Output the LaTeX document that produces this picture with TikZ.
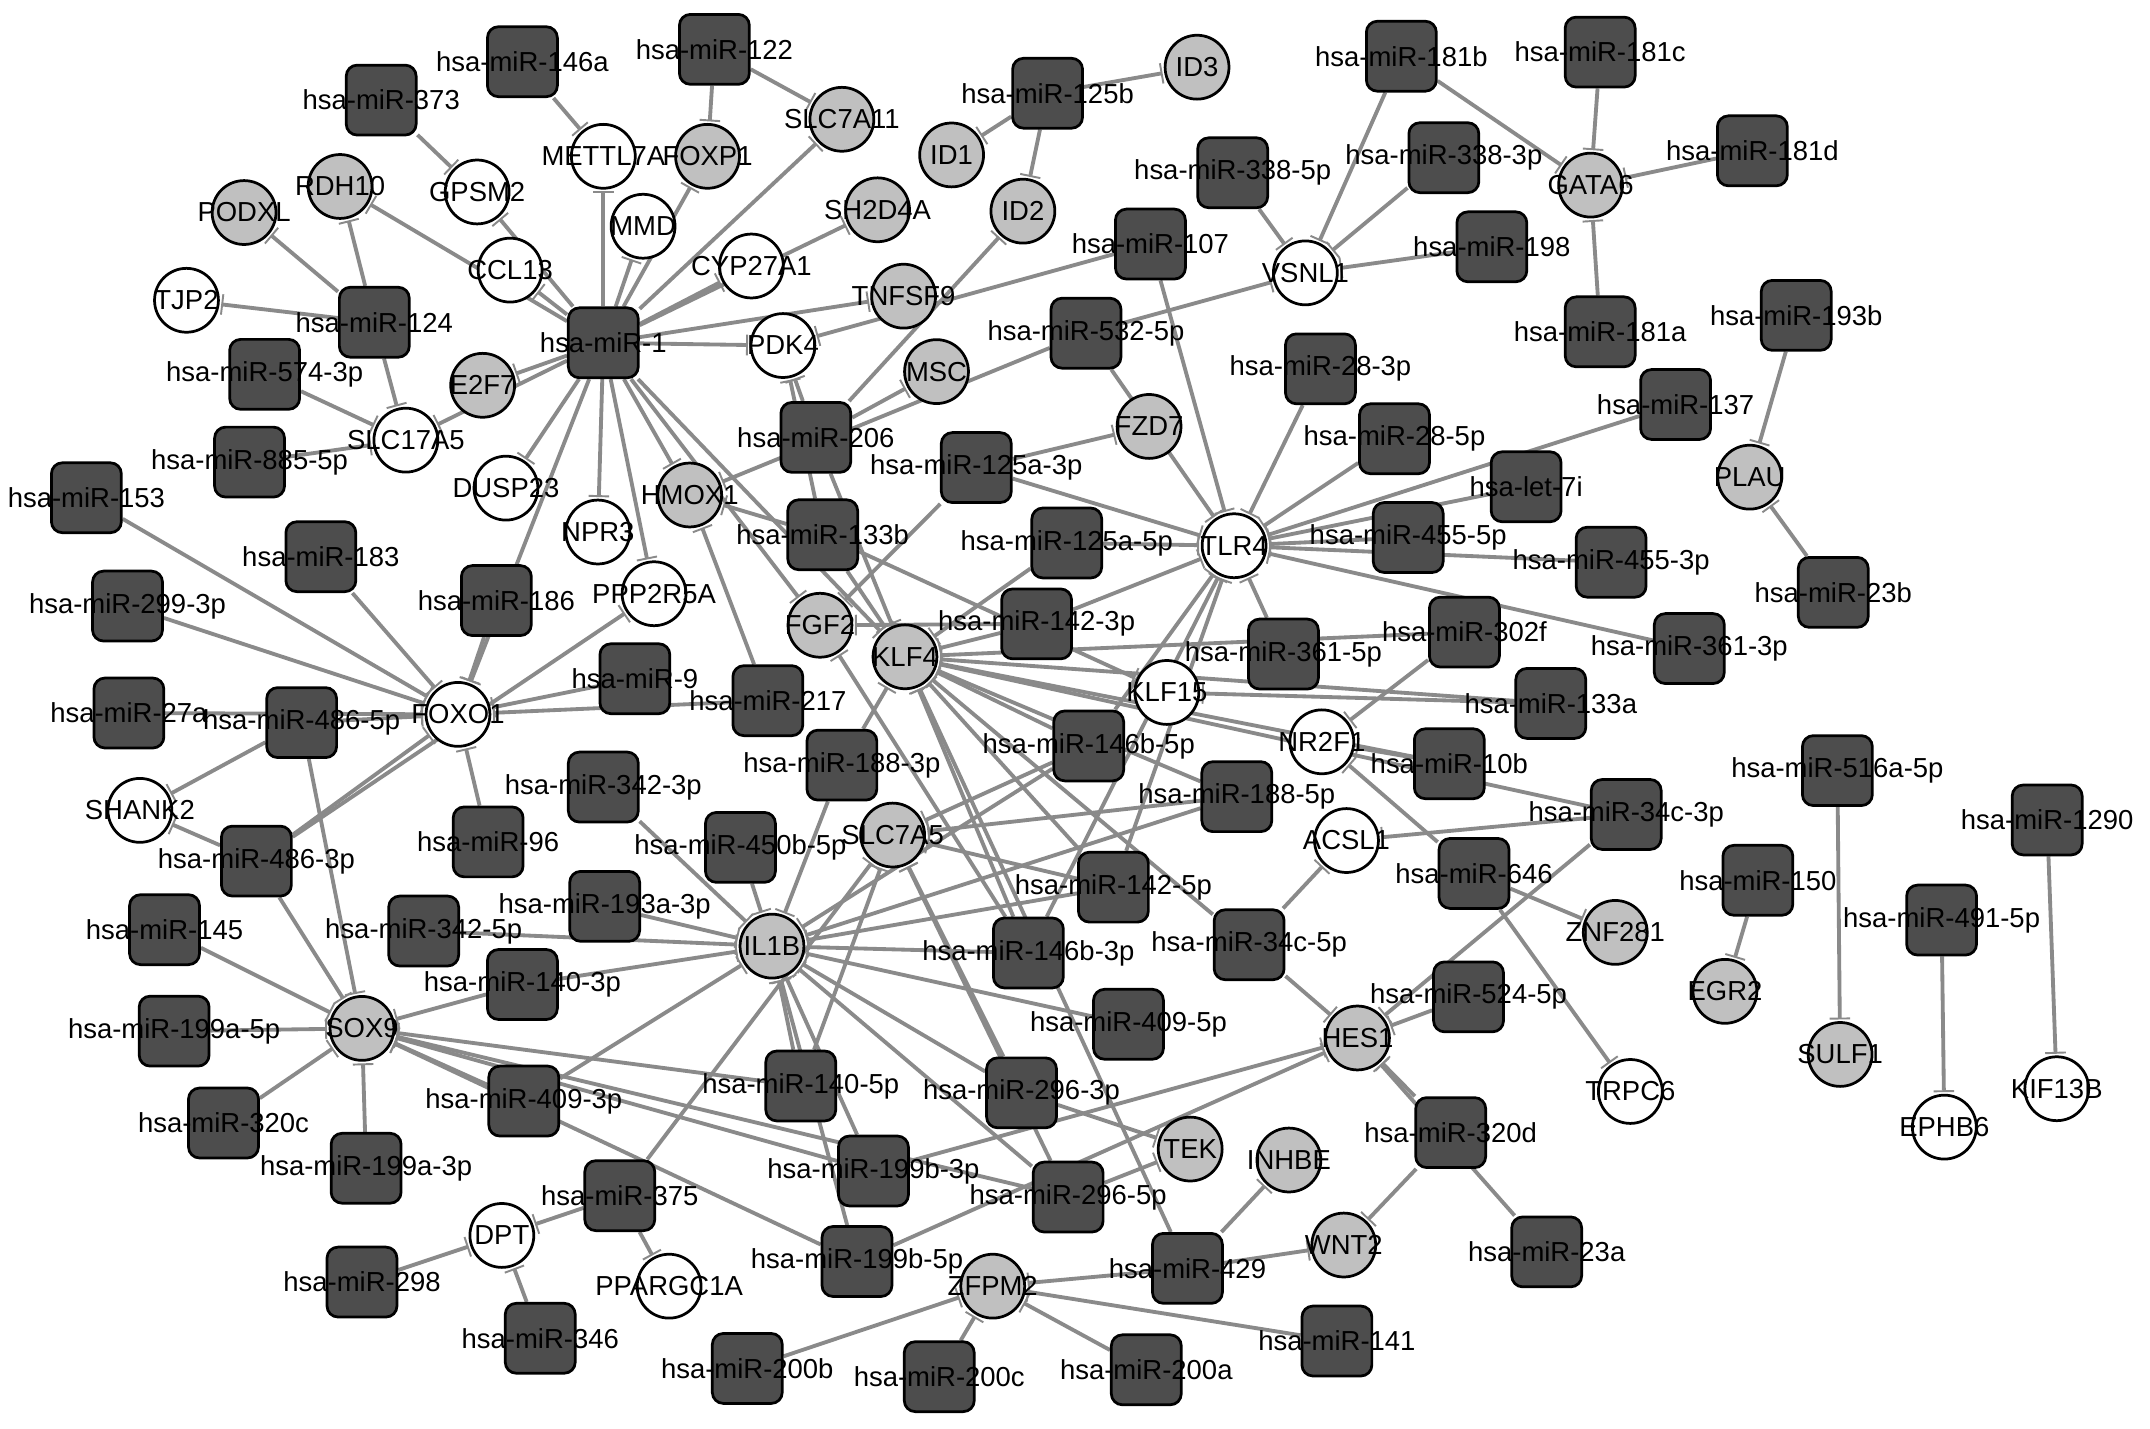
\documentclass[tikz,border=0pt]{standalone}
\usepackage{fontspec}
\setmainfont{Liberation Sans}
\usetikzlibrary{arrows.meta}
\definecolor{mirfill}{HTML}{4D4D4D}
\definecolor{genegray}{HTML}{C0C0C0}
\definecolor{edgegray}{HTML}{8A8A8A}
\pgfdeclarelayer{back}\pgfdeclarelayer{bg}\pgfdeclarelayer{fg}
\pgfsetlayers{back,bg,main,fg}
\tikzset{
  mir/.style={rectangle, rounded corners=0.4cm, draw=black, fill=mirfill, line width=0.1cm, minimum size=2.55cm, inner sep=0pt},
  gg/.style={circle, draw=black, fill=genegray, line width=0.1cm, minimum size=2.33cm, inner sep=0pt},
  gw/.style={circle, draw=black, fill=white, line width=0.1cm, minimum size=2.33cm, inner sep=0pt},
  lab/.style={font=\fontsize{28.5}{30}\selectfont, text=black, inner sep=0pt},
  edge/.style={draw=edgegray, line width=0.14cm, -{Bar[width=0.75cm,line width=0.07cm]}, shorten >=0.06cm}
}
\newcommand{\M}[4]{\node[mir] (#1) at (#2,#3) {};\begin{pgfonlayer}{fg}\node[lab] at (#1) {#4};\end{pgfonlayer}}
\newcommand{\G}[4]{\node[gg] (#1) at (#2,#3) {};\begin{pgfonlayer}{fg}\node[lab] at (#1) {#4};\end{pgfonlayer}}
\newcommand{\W}[4]{\node[gw] (#1) at (#2,#3) {};\begin{pgfonlayer}{fg}\node[lab] at (#1) {#4};\end{pgfonlayer}}
\newcommand{\E}[2]{\draw[edge] (#1) -- (#2);}
\begin{document}
\begin{tikzpicture}[x=0.05cm,y=-0.05cm]
\useasboundingbox (0,0) rectangle (1568,1042);
\begin{pgfonlayer}{back}\fill[white] (0,0) rectangle (1568,1042);\end{pgfonlayer}
% miRNAs
\M{m146a}{381}{45}{hsa-miR-146a}
\M{m122}{521}{36}{hsa-miR-122}
\M{m373}{278}{73}{hsa-miR-373}
\M{m125b}{764}{68}{hsa-miR-125b}
\M{m181b}{1022}{41}{hsa-miR-181b}
\M{m181c}{1167}{38}{hsa-miR-181c}
\M{m181d}{1278}{110}{hsa-miR-181d}
\M{m338b}{899}{126}{hsa-miR-338-5p}
\M{m338a}{1053}{115}{hsa-miR-338-3p}
\M{m198}{1088}{180}{hsa-miR-198}
\M{m107}{839}{178}{hsa-miR-107}
\M{m181a}{1167}{242}{hsa-miR-181a}
\M{m193b}{1310}{230}{hsa-miR-193b}
\M{m124}{273}{235}{hsa-miR-124}
\M{m1}{440}{250}{hsa-miR-1}
\M{m574}{193}{273}{hsa-miR-574-3p}
\M{m885}{182}{337}{hsa-miR-885-5p}
\M{m532}{792}{243}{hsa-miR-532-5p}
\M{m28a}{963}{269}{hsa-miR-28-3p}
\M{m28b}{1017}{320}{hsa-miR-28-5p}
\M{m137}{1222}{295}{hsa-miR-137}
\M{let7i}{1113}{355}{hsa-let-7i}
\M{m455b}{1027}{392}{hsa-miR-455-5p}
\M{m455a}{1175}{410}{hsa-miR-455-3p}
\M{m361a}{1232}{473}{hsa-miR-361-3p}
\M{m361b}{936}{477}{hsa-miR-361-5p}
\M{m302f}{1068}{461}{hsa-miR-302f}
\M{m133a}{1131}{513}{hsa-miR-133a}
\M{m10b}{1057}{557}{hsa-miR-10b}
\M{m206}{595}{319}{hsa-miR-206}
\M{m125aa}{712}{341}{hsa-miR-125a-3p}
\M{m125ab}{778}{396}{hsa-miR-125a-5p}
\M{m133b}{600}{390}{hsa-miR-133b}
\M{m153}{63}{363}{hsa-miR-153}
\M{m183}{234}{406}{hsa-miR-183}
\M{m186}{362}{438}{hsa-miR-186}
\M{m299}{93}{442}{hsa-miR-299-3p}
\M{m27a}{94}{520}{hsa-miR-27a}
\M{m486b}{220}{527}{hsa-miR-486-5p}
\M{m9}{463}{495}{hsa-miR-9}
\M{m217}{560}{511}{hsa-miR-217}
\M{m142a}{756}{455}{hsa-miR-142-3p}
\M{m146bb}{794}{544}{hsa-miR-146b-5p}
\M{m188a}{614}{558}{hsa-miR-188-3p}
\M{m188b}{902}{581}{hsa-miR-188-5p}
\M{m342a}{440}{574}{hsa-miR-342-3p}
\M{m96}{356}{614}{hsa-miR-96}
\M{m450b}{540}{618}{hsa-miR-450b-5p}
\M{m486a}{187}{628}{hsa-miR-486-3p}
\M{m145}{120}{678}{hsa-miR-145}
\M{m342b}{309}{679}{hsa-miR-342-5p}
\M{m193a}{441}{661}{hsa-miR-193a-3p}
\M{m142b}{812}{647}{hsa-miR-142-5p}
\M{m146ba}{750}{695}{hsa-miR-146b-3p}
\M{m34cb}{911}{689}{hsa-miR-34c-5p}
\M{m140a}{381}{718}{hsa-miR-140-3p}
\M{m409b}{823}{747}{hsa-miR-409-5p}
\M{m199ab}{127}{752}{hsa-miR-199a-5p}
\M{m524}{1071}{727}{hsa-miR-524-5p}
\M{m34ca}{1186}{594}{hsa-miR-34c-3p}
\M{m646}{1075}{637}{hsa-miR-646}
\M{m516a}{1340}{562}{hsa-miR-516a-5p}
\M{m150}{1282}{642}{hsa-miR-150}
\M{m1290}{1493}{598}{hsa-miR-1290}
\M{m491}{1416}{671}{hsa-miR-491-5p}
\M{m320c}{163}{819}{hsa-miR-320c}
\M{m199aa}{267}{852}{hsa-miR-199a-3p}
\M{m409a}{382}{803}{hsa-miR-409-3p}
\M{m140b}{584}{792}{hsa-miR-140-5p}
\M{m296a}{745}{797}{hsa-miR-296-3p}
\M{m199ba}{637}{854}{hsa-miR-199b-3p}
\M{m296b}{779}{873}{hsa-miR-296-5p}
\M{m320d}{1058}{826}{hsa-miR-320d}
\M{m375}{452}{872}{hsa-miR-375}
\M{m199bb}{625}{920}{hsa-miR-199b-5p}
\M{m298}{264}{935}{hsa-miR-298}
\M{m346}{394}{976}{hsa-miR-346}
\M{m429}{866}{925}{hsa-miR-429}
\M{m23a}{1128}{913}{hsa-miR-23a}
\M{m141}{975}{978}{hsa-miR-141}
\M{m200b}{545}{998}{hsa-miR-200b}
\M{m200c}{685}{1004}{hsa-miR-200c}
\M{m200a}{836}{999}{hsa-miR-200a}
\M{m23b}{1337}{432}{hsa-miR-23b}
% genes gray
\G{ID3}{873}{49}{ID3}
\G{ID1}{694}{113}{ID1}
\G{ID2}{746}{154}{ID2}
\G{FOXP1}{516}{114}{FOXP1}
\G{SLC7A11}{614}{87}{SLC7A11}
\G{SH2D4A}{640}{153}{SH2D4A}
\G{RDH10}{248}{136}{RDH10}
\G{PODXL}{178}{155}{PODXL}
\G{TNFSF9}{659}{216}{TNFSF9}
\G{MSC}{683}{271}{MSC}
\G{E2F7}{352}{281}{E2F7}
\G{HMOX1}{503}{361}{HMOX1}
\G{FZD7}{838}{311}{FZD7}
\G{GATA6}{1160}{135}{GATA6}
\G{PLAU}{1276}{348}{PLAU}
\G{FGF2}{598}{456}{FGF2}
\G{KLF4}{660}{479}{KLF4}
\G{SLC7A5}{651}{609}{SLC7A5}
\G{IL1B}{563}{690}{IL1B}
\G{SOX9}{264}{750}{SOX9}
\G{TEK}{868}{838}{TEK}
\G{INHBE}{940}{846}{INHBE}
\G{WNT2}{980}{908}{WNT2}
\G{ZFPM2}{724}{938}{ZFPM2}
\G{ZNF281}{1178}{680}{ZNF281}
\G{EGR2}{1258}{723}{EGR2}
\G{SULF1}{1342}{769}{SULF1}
\G{HES1}{990}{757}{HES1}
% genes white
\W{METTL7A}{440}{114}{METTL7A}
\W{GPSM2}{348}{140}{GPSM2}
\W{CCL13}{372}{197}{CCL13}
\W{MMD}{469}{165}{MMD}
\W{CYP27A1}{548}{194}{CYP27A1}
\W{PDK4}{571}{252}{PDK4}
\W{TJP2}{136}{219}{TJP2}
\W{SLC17A5}{296}{321}{SLC17A5}
\W{DUSP23}{369}{356}{DUSP23}
\W{NPR3}{436}{388}{NPR3}
\W{PPP2R5A}{477}{433}{PPP2R5A}
\W{VSNL1}{952}{199}{VSNL1}
\W{TLR4}{900}{398}{TLR4}
\W{KLF15}{851}{505}{KLF15}
\W{NR2F1}{964}{541}{NR2F1}
\W{FOXO1}{334}{521}{FOXO1}
\W{SHANK2}{102}{591}{SHANK2}
\W{ACSL1}{982}{613}{ACSL1}
\W{TRPC6}{1189}{796}{TRPC6}
\W{EPHB6}{1418}{822}{EPHB6}
\W{KIF13B}{1500}{794}{KIF13B}
\W{DPT}{366}{901}{DPT}
\W{PPARGC1A}{488}{938}{PPARGC1A}
\begin{pgfonlayer}{bg}
\E{m146a}{METTL7A}
\E{m122}{FOXP1}\E{m122}{SLC7A11}
\E{m373}{GPSM2}
\E{m124}{PODXL}\E{m124}{RDH10}\E{m124}{TJP2}\E{m124}{SLC17A5}
\E{m574}{SLC17A5}\E{m885}{SLC17A5}
\foreach \t in {RDH10,GPSM2,CCL13,METTL7A,MMD,FOXP1,SLC7A11,CYP27A1,SH2D4A,TNFSF9,PDK4,E2F7,SLC17A5,DUSP23,NPR3,PPP2R5A,HMOX1,FOXO1,FGF2,KLF4} {\E{m1}{\t}}
\E{m186}{FOXO1}
\E{m125b}{ID1}\E{m125b}{ID2}\E{m125b}{ID3}
\E{m206}{PDK4}\E{m206}{MSC}\E{m206}{ID2}\E{m206}{KLF4}
\E{m133b}{PDK4}
\E{m107}{PDK4}\E{m107}{TLR4}
\E{m532}{VSNL1}\E{m532}{HMOX1}\E{m532}{TLR4}
\E{m181b}{VSNL1}\E{m181b}{GATA6}
\E{m338b}{VSNL1}\E{m338a}{VSNL1}\E{m198}{VSNL1}
\E{m181c}{GATA6}\E{m181a}{GATA6}\E{m181d}{GATA6}
\E{m193b}{PLAU}\E{m23b}{PLAU}
\foreach \s in {m28a,m28b,m137,let7i,m455b,m455a,m361a,m361b,m125ab,m125aa,m142a,m146bb,m142b,m146ba} {\E{\s}{TLR4}}
\E{m125aa}{FZD7}\E{m125aa}{FGF2}
\E{m133b}{HMOX1}\E{m133b}{KLF4}\E{m133b}{KLF15}
\E{m125ab}{KLF4}
\E{m142a}{FGF2}
\foreach \s in {m142a,m302f,m133a,m10b,m34ca,m146bb,m188b,m34cb,m142b,m146ba,m188a,m429} {\E{\s}{KLF4}}
\E{m133a}{KLF15}
\E{m302f}{NR2F1}\E{m10b}{NR2F1}\E{m646}{NR2F1}
\E{m34cb}{ACSL1}\E{m34ca}{ACSL1}
\E{m646}{ZNF281}\E{m646}{TRPC6}
\E{m150}{EGR2}\E{m516a}{SULF1}\E{m491}{EPHB6}\E{m1290}{KIF13B}
\foreach \s in {m153,m183,m299,m27a,m486b,m486a,m96,m9,m217} {\E{\s}{FOXO1}}
\E{m486a}{PPP2R5A}
\E{m217}{HMOX1}
\E{m486b}{SHANK2}\E{m486a}{SHANK2}
\foreach \s in {m486b,m486a,m145,m199ab,m320c,m199aa,m140a,m409a,m140b,m199ba,m199bb,m296b} {\E{\s}{SOX9}}
\E{m298}{DPT}\E{m346}{DPT}\E{m375}{DPT}
\E{m375}{PPARGC1A}
\foreach \s in {m342a,m450b,m188a,m193a,m342b,m140a,m409a,m140b,m199ba,m199bb,m146ba,m409b,m296a,m296b,m142b,m146bb,m188b} {\E{\s}{IL1B}}
\foreach \s in {m375,m140b,m296a,m296b,m146bb,m142b,m188b} {\E{\s}{SLC7A5}}
\E{m146ba}{FGF2}
\foreach \s in {m34cb,m524,m34ca,m320d,m23a,m199ba,m199bb} {\E{\s}{HES1}}
\E{m296a}{TEK}\E{m296b}{TEK}
\E{m429}{INHBE}\E{m429}{WNT2}\E{m320d}{WNT2}
\foreach \s in {m200b,m200c,m200a,m141,m429} {\E{\s}{ZFPM2}}
\end{pgfonlayer}
\end{tikzpicture}
\end{document}
